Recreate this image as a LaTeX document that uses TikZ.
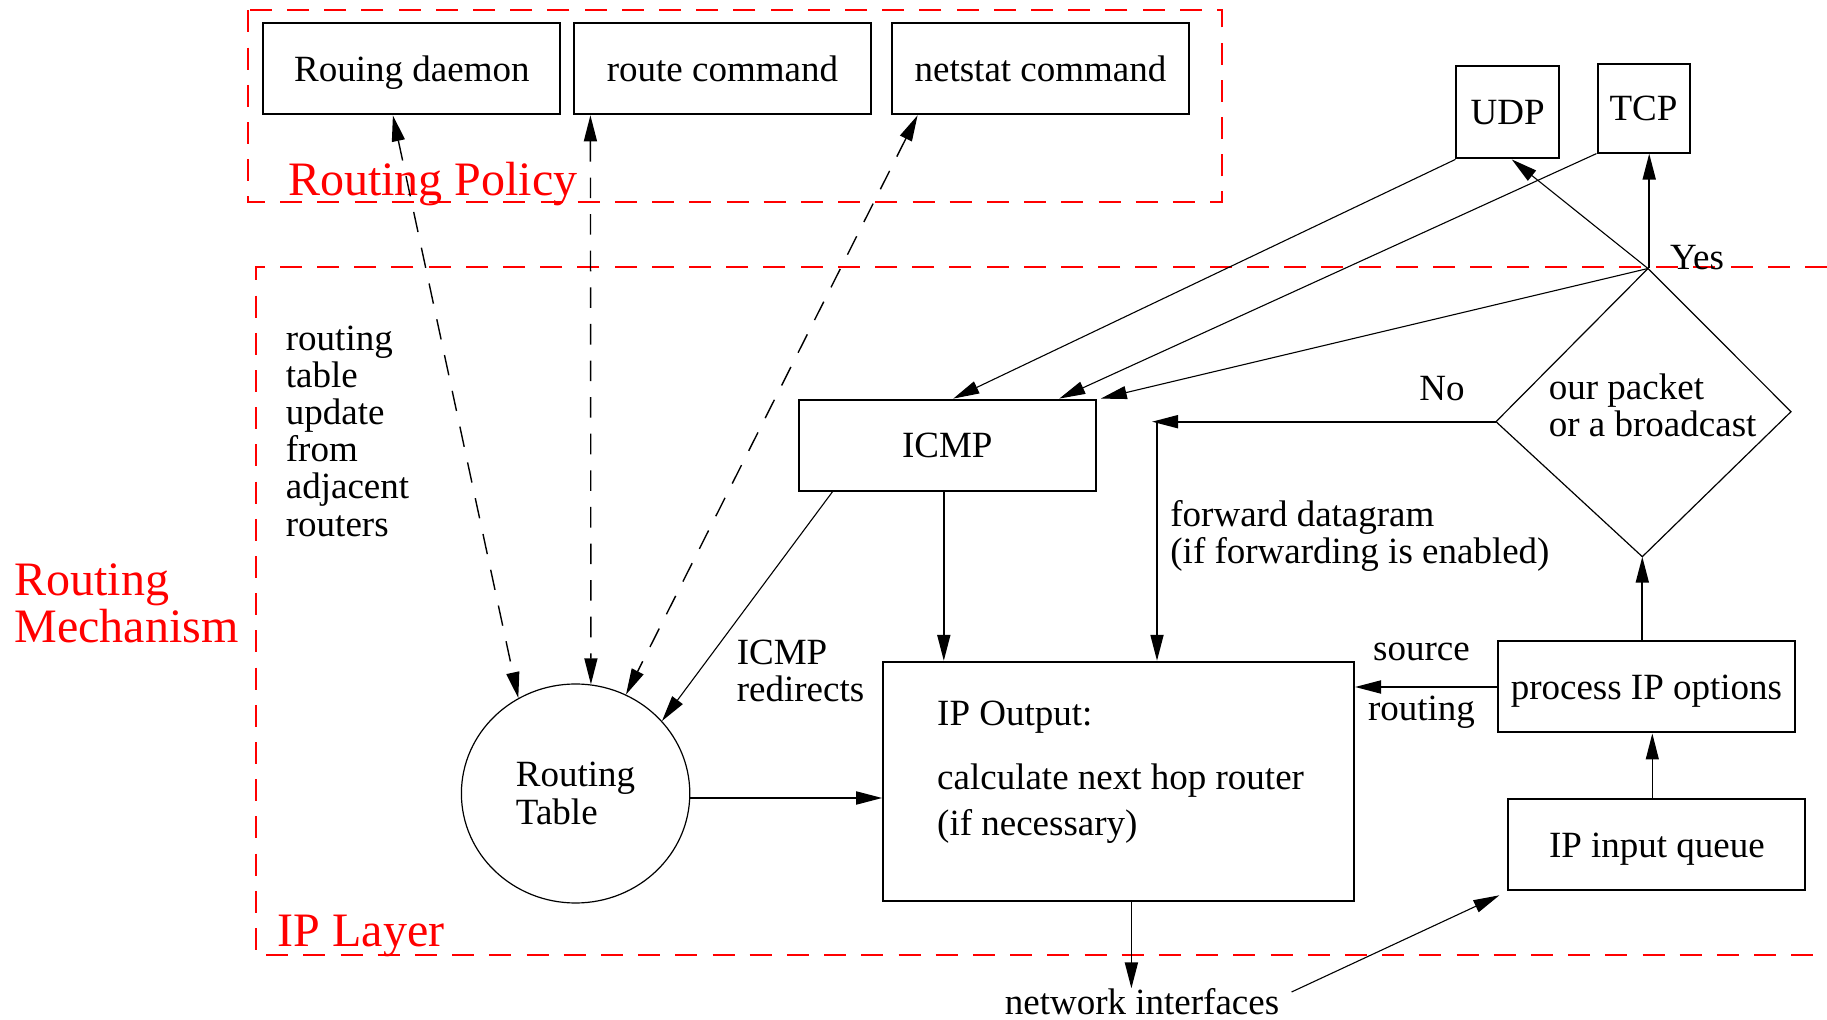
\documentclass[tikz,border=0pt]{standalone}
\usepackage{fontspec}
\setmainfont{Liberation Serif}
\usetikzlibrary{arrows.meta,shapes.geometric}
\newcommand{\nfont}{\fontsize{18.5pt}{18.6pt}\selectfont}
\newcommand{\lfont}{\fontsize{24pt}{23.3pt}\selectfont}
\tikzset{
  box/.style={draw, line width=1pt, minimum width=148.5pt, minimum height=45.5pt, inner sep=0pt, font=\nfont, text height=12.6pt, text depth=0pt},
  lbl/.style={inner sep=0pt, font=\nfont, align=left},
  redlbl/.style={inner sep=0pt, font=\lfont, text=red, align=left},
  tip/.style={-{Triangle[length=13pt,width=6.5pt]}},
  conn/.style={line width=0.9pt, tip},
  thinconn/.style={line width=0.55pt, tip},
  dsh/.style={line width=0.7pt, dash pattern=on 10.3pt off 8pt, {Triangle[length=13pt,width=6.5pt]}-{Triangle[length=13pt,width=6.5pt]}},
  region/.style={red, line width=1pt, dash pattern=on 11pt off 7.6pt}
}
\begin{document}
\begin{tikzpicture}[x=0.5pt,y=-0.5pt]
\useasboundingbox (0,0) rectangle (1827,1020);
% regions
\draw[region] (248,10.5) rectangle (1222,201.6);
\draw[region] (1827,266.8) -- (256.3,266.8) -- (256.3,955.5) -- (1827,955.5);
\node[redlbl, anchor=west] (rp) at (287.8,184) {Routing Policy};
\node[redlbl, anchor=west] (ipl) at (277.3,935.5) {IP Layer};
\node[redlbl, anchor=west] (rm) at (14,603.5) {Routing\\Mechanism};
% boxes
\node[box] (daemon) at (411.9,68.8) {Rouing daemon};
\node[box] (route) at (722.4,68.8) {route command};
\node[box] (netstat) at (1040.5,68.8) {netstat command};
\node[box, minimum width=51.25pt, minimum height=46pt] (udp) at (1507.7,112.4) {UDP};
\node[box, minimum width=46pt, minimum height=44.3pt] (tcp) at (1643.5,108.3) {TCP};
\node[box] (icmp) at (947.3,445.1) {ICMP};
\node[box, minimum width=235.4pt, minimum height=119.5pt] (ipo) at (1118.6,781.3) {};
\node[box] (proc) at (1646.4,687) {process IP options};
\node[box] (queue) at (1656.9,844.8) {IP input queue};
\node[draw, ellipse, line width=0.6pt, minimum width=114.2pt, minimum height=109.5pt, inner sep=0pt, font=\nfont, align=left] (rt) at (575.6,793.5) {Routing\\Table};
% decision diamond
\coordinate (dt) at (1648,268.5);
\coordinate (dr) at (1791,411.7);
\coordinate (db) at (1642.3,556.7);
\coordinate (dl) at (1496,421.7);
\draw[line width=0.6pt] (dt) -- (dr) -- (db) -- (dl) -- cycle;
\node[lbl, anchor=west] (diatxt) at (1548.5,405) {our packet\\or a broadcast};
% labels
\node[lbl, anchor=west] (ipotxt) at (936.8,772.5) {IP Output:\\[13.4pt]calculate next hop router\\[4.2pt](if necessary)};
\node[lbl, anchor=west] (rtu) at (285.5,431) {routing\\table\\update\\from\\adjacent\\routers};
\node[lbl, anchor=west] (yes) at (1669.7,258) {Yes};
\node[lbl] (no) at (1442,389) {No};
\node[lbl, anchor=west] (fwdtxt) at (1170,536) {forward datagram\\(if forwarding is enabled)};
\node[lbl, anchor=west] (redir) at (736.4,671) {ICMP\\redirects};
\node[lbl] (src) at (1421.5,652) {source};
\node[lbl] (srt) at (1421.5,712.5) {routing};
\node[lbl] (netif) at (1142,1002) {network interfaces};
\coordinate (fwd) at (1152,421.7);
% dashed arrows
\draw[dsh] ([xshift=-9.5pt]daemon.south) -- (rt.121);
\draw[dsh] ([xshift=8.75pt]route.south west) -- (rt.82);
\draw[dsh] ([xshift=13.3pt]netstat.south west) -- (rt.63);
% top connectors
\draw[thinconn] (udp.south west) -- ([xshift=3pt]icmp.north);
\draw[thinconn] (tcp.south west) -- ([xshift=56pt]icmp.north);
\draw[thinconn] (dt) -- ([xshift=2pt]icmp.north east);
\draw[thinconn] (dt) -- ([xshift=2pt]udp.south);
\draw[conn] ([xshift=0.6pt]dt) -- ([xshift=0.6pt]dt |- tcp.south);
% forwarding
\draw[conn] (dl) -- (fwd);
\draw[conn] ([xshift=2.5pt]fwd) -- ([xshift=2.5pt]fwd |- ipo.north);
% ICMP
\draw[conn] ([xshift=-1.75pt]icmp.south) -- ([xshift=-1.75pt]icmp.south |- ipo.north);
\draw[thinconn] ([xshift=17.4pt]icmp.south west) -- (rt.40);
\draw[conn] ([yshift=-2.25pt]rt.east) -- ([yshift=-2.25pt]rt.east -| ipo.west);
% input path
\draw[conn] (proc.north -| db) -- (db);
\draw[conn] (proc.west) -- (proc.west -| ipo.east);
\draw[thinconn] ([xshift=-2.3pt]queue.north) -- ([xshift=-2.3pt]queue.north |- proc.south);
\draw[conn] ([xshift=6.4pt]ipo.south) -- ([xshift=6.4pt]ipo.south |- netif.north);
\draw[thinconn] ([shift={(6pt,5pt)}]netif.east) -- ([shift={(-4pt,-2pt)}]queue.south west);
\end{tikzpicture}
\end{document}
